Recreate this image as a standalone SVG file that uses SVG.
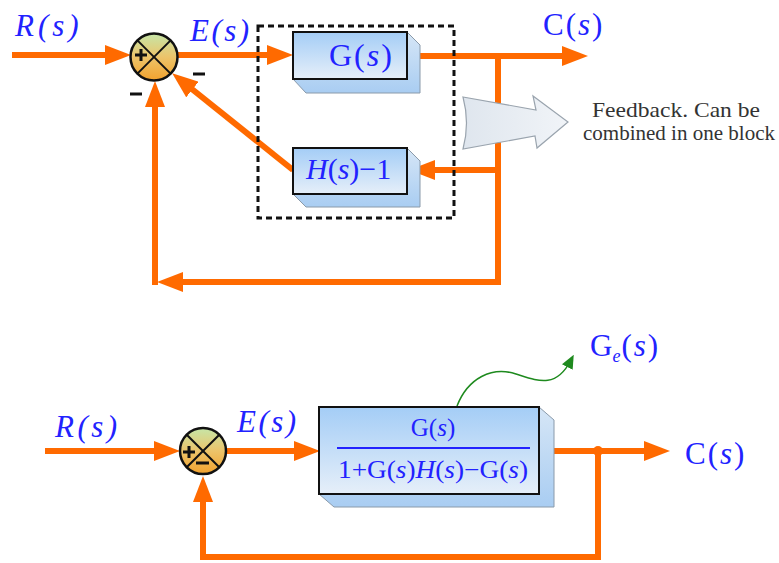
<svg xmlns="http://www.w3.org/2000/svg" width="779" height="563" viewBox="0 0 779 563">
  <style>
    .wire { fill: none; stroke: #ff6a00; stroke-width: 6; stroke-linejoin: miter; }
    .math { font-family: "Liberation Serif", "DejaVu Serif", serif; fill: #2222ff; }
    .it { font-style: italic; }
    .block { fill: url(#blockFill); stroke: #111; stroke-width: 2; }
    .side { fill: url(#sideFill); stroke: #8a9aaa; stroke-width: 1; }
    .sum { fill: url(#sumFill); stroke: #111; stroke-width: 2.5; }
    .cross { stroke: #111; stroke-width: 2; }
    .sign { fill: #111; }
    .note { font-family: "Liberation Serif", "DejaVu Serif", serif; font-size: 21px; fill: #333; }
  </style>
  <defs>
    <linearGradient id="blockFill" x1="0" y1="0" x2="0" y2="1">
      <stop offset="0" stop-color="#a4cdf6"/>
      <stop offset="1" stop-color="#e6eff9"/>
    </linearGradient>
    <linearGradient id="sideFill" x1="0" y1="0" x2="0" y2="1">
      <stop offset="0" stop-color="#d6e6f6"/>
      <stop offset="1" stop-color="#a9cdf2"/>
    </linearGradient>
    <linearGradient id="sumFill" x1="0" y1="0" x2="0" y2="1">
      <stop offset="0" stop-color="#c6e6a8"/>
      <stop offset="0.5" stop-color="#ecc46a"/>
      <stop offset="1" stop-color="#f2a22e"/>
    </linearGradient>
    <linearGradient id="hollowFill" x1="0" y1="0" x2="1" y2="0">
      <stop offset="0" stop-color="#dfe6ee"/>
      <stop offset="1" stop-color="#f1f4f8"/>
    </linearGradient>
    <marker id="head" markerUnits="userSpaceOnUse" markerWidth="26" markerHeight="20" refX="16" refY="10" orient="auto">
      <path d="M0,0 L26,10 L0,20 Z" fill="#ff6a00"/>
    </marker>
    <marker id="greenHead" markerUnits="userSpaceOnUse" markerWidth="14" markerHeight="12" refX="8" refY="6" orient="auto">
      <path d="M0,0 L14,6 L0,12 Z" fill="#1e8a1e"/>
    </marker>
  </defs>

  <!-- connectors -->
  <g id="connectors">
    <!-- upper loop -->
    <path class="wire" d="M12,55 H121" marker-end="url(#head)"/>
    <path class="wire" d="M178,55 H283" marker-end="url(#head)"/>
    <path class="wire" d="M407,56 H578" marker-end="url(#head)"/>
    <path class="wire" d="M498,56 V282 H167" marker-end="url(#head)"/>
    <path class="wire" d="M155,285 V91" marker-end="url(#head)"/>
    <path class="wire" d="M498,170 H419" marker-end="url(#head)"/>
    <path class="wire" d="M293,170 L180,79.5" marker-end="url(#head)"/>
    <!-- lower loop -->
    <path class="wire" d="M45,451 H170" marker-end="url(#head)"/>
    <path class="wire" d="M226,451 H310" marker-end="url(#head)"/>
    <path class="wire" d="M539,451 H660" marker-end="url(#head)"/>
    <path class="wire" d="M598,451 V557 H203 V486" marker-end="url(#head)"/>
    <circle cx="598" cy="451" r="5" fill="#ff6a00"/>
    <!-- equivalent-gain pointer -->
    <path d="M457,406 C468,378 492,366 516,374 C538,381 556,389 571,360" fill="none" stroke="#1e8a1e" stroke-width="1.5" marker-end="url(#greenHead)"/>
  </g>

  <!-- upper summing junction -->
  <g id="sum1">
    <circle class="sum" cx="154" cy="57" r="23.5"/>
    <line class="cross" x1="137.4" y1="40.4" x2="170.6" y2="73.6"/>
    <line class="cross" x1="170.6" y1="40.4" x2="137.4" y2="73.6"/>
    <rect class="sign" x="135" y="53.5" width="12" height="3"/>
    <rect class="sign" x="139.5" y="49" width="3" height="12"/>
    <rect class="sign" x="193" y="72.5" width="12" height="3"/>
    <rect class="sign" x="130" y="92.5" width="12" height="3"/>
  </g>

  <!-- forward block G(s) -->
  <g id="blockG">
    <polygon class="side" points="407,32 420,45 420,93 306,93 293,79 407,79"/>
    <rect class="block" x="293" y="32" width="114" height="47"/>
    <text class="math" x="329" y="66" font-size="32" letter-spacing="2">G(<tspan class="it">s</tspan>)</text>
  </g>

  <!-- feedback block H(s)-1 -->
  <g id="blockH">
    <polygon class="side" points="407,148 420,161 420,207 306,207 293,194 407,194"/>
    <rect class="block" x="293" y="148" width="114" height="46"/>
    <text class="math" x="306" y="179" font-size="30"><tspan class="it">H</tspan>(<tspan class="it">s</tspan>)−1</text>
  </g>

  <!-- dashed grouping frame -->
  <g id="frame">
    <rect x="258" y="26" width="196" height="192" fill="none" stroke="#111" stroke-width="3" stroke-dasharray="6 4"/>
  </g>

  <!-- callout arrow and note -->
  <g id="callout">
    <path d="M463,97 L536,110 L533,96 L568,122 L537,148 L535,136 L463,149 Q470,123 463,97 Z" fill="url(#hollowFill)" stroke="#9aa4ae" stroke-width="1.2"/>
    <text class="note" x="676" y="117" text-anchor="middle" textLength="168" lengthAdjust="spacingAndGlyphs">Feedback. Can be</text>
    <text class="note" x="679" y="140" text-anchor="middle" textLength="192" lengthAdjust="spacingAndGlyphs">combined in one block</text>
  </g>

  <!-- upper signal labels -->
  <g id="labels1">
    <text class="math it" x="15" y="36" font-size="31" letter-spacing="4">R(s)</text>
    <text class="math it" x="190" y="41" font-size="31" letter-spacing="2.5">E(s)</text>
    <text class="math" x="543" y="35" font-size="31" letter-spacing="2">C(<tspan class="it">s</tspan>)</text>
  </g>

  <!-- lower summing junction -->
  <g id="sum2">
    <circle class="sum" cx="203" cy="451" r="23"/>
    <line class="cross" x1="186.7" y1="434.7" x2="219.3" y2="467.3"/>
    <line class="cross" x1="219.3" y1="434.7" x2="186.7" y2="467.3"/>
    <rect class="sign" x="183" y="450.5" width="12" height="3"/>
    <rect class="sign" x="187.5" y="446" width="3" height="12"/>
    <rect class="sign" x="196" y="461.5" width="13" height="3"/>
  </g>

  <!-- equivalent closed-loop block -->
  <g id="blockEq">
    <polygon class="side" points="539,407 554,420 554,507 334,507 319,494 539,494"/>
    <rect class="block" x="319" y="407" width="220" height="87"/>
    <text class="math" x="433" y="436" font-size="25" text-anchor="middle">G(<tspan class="it">s</tspan>)</text>
    <line x1="337" y1="448" x2="530" y2="448" stroke="#2222ff" stroke-width="1.8"/>
    <text class="math" x="433" y="478" font-size="25" text-anchor="middle" textLength="190" lengthAdjust="spacingAndGlyphs">1+G(<tspan class="it">s</tspan>)<tspan class="it">H</tspan>(<tspan class="it">s</tspan>)−G(<tspan class="it">s</tspan>)</text>
  </g>

  <!-- lower signal labels -->
  <g id="labels2">
    <text class="math it" x="55" y="437" font-size="31" letter-spacing="3.5">R(s)</text>
    <text class="math it" x="237" y="432" font-size="31" letter-spacing="2.5">E(s)</text>
    <text class="math" x="685" y="464" font-size="31" letter-spacing="2">C(<tspan class="it">s</tspan>)</text>
    <text class="math" x="590" y="356" font-size="31">G<tspan class="it" font-size="18" dy="6">e</tspan><tspan dy="-6" dx="1" letter-spacing="2">(<tspan class="it">s</tspan>)</tspan></text>
  </g>
</svg>
